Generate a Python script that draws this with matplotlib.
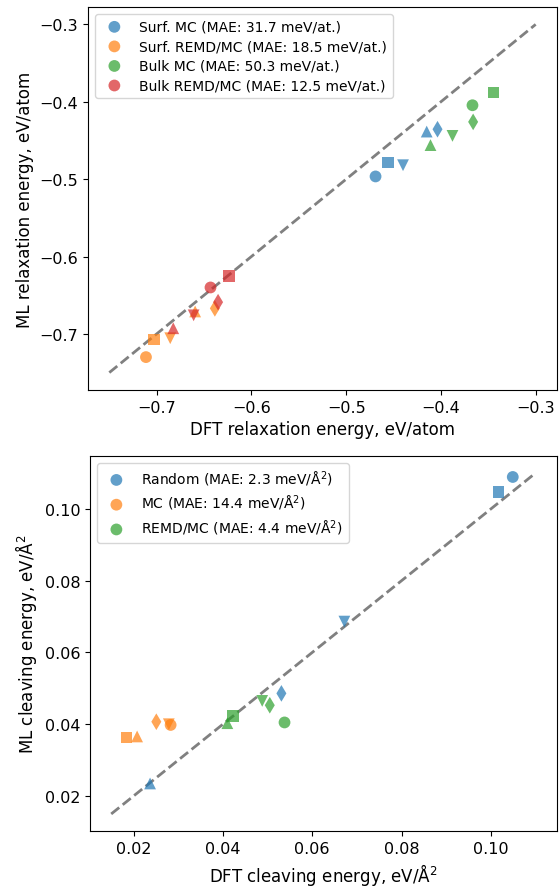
import matplotlib
matplotlib.use("Agg")
import matplotlib.pyplot as plt

# ---------------- data: top panel (relaxation energy, eV/atom) ----------------
# order of points per series: circle, square, down-triangle, up-triangle, diamond
relax_labels = [
    "Surf. MC (MAE: 31.7 meV/at.)",
    "Surf. REMD/MC (MAE: 18.5 meV/at.)",
    "Bulk MC (MAE: 50.3 meV/at.)",
    "Bulk REMD/MC (MAE: 12.5 meV/at.)",
]
surf_mc_dft = [-0.469, -0.4555, -0.440, -0.415, -0.4036]
surf_mc_ml = [-0.4965, -0.4785, -0.482, -0.4385, -0.4355]
surf_remd_dft = [-0.7113, -0.7025, -0.6857, -0.6594, -0.6386]
surf_remd_ml = [-0.730, -0.7073, -0.7056, -0.671, -0.667]
bulk_mc_dft = [-0.3667, -0.3446, -0.3878, -0.411, -0.366]
bulk_mc_ml = [-0.4045, -0.388, -0.4441, -0.456, -0.426]
bulk_remd_dft = [-0.6432, -0.6236, -0.661, -0.6825, -0.6352]
bulk_remd_ml = [-0.640, -0.625, -0.676, -0.6927, -0.659]
relax_line = [-0.75, -0.3]

# ---------------- data: bottom panel (cleaving energy, eV/A^2) ----------------
cleave_labels = [
    "Random (MAE: 2.3 meV/Å$^2$)",
    "MC (MAE: 14.4 meV/Å$^2$)",
    "REMD/MC (MAE: 4.4 meV/Å$^2$)",
]
random_dft = [0.1049, 0.1017, 0.0672, 0.0237, 0.0531]
random_ml = [0.1089, 0.1048, 0.0686, 0.0235, 0.0486]
mc_dft = [0.0283, 0.0184, 0.0279, 0.0208, 0.0251]
mc_ml = [0.0398, 0.0363, 0.0400, 0.0366, 0.0407]
remd_dft = [0.0538, 0.0423, 0.0488, 0.0410, 0.0505]
remd_ml = [0.0405, 0.0422, 0.0465, 0.0403, 0.0453]
cleave_line = [0.015, 0.11]

markers = ["o", "s", "v", "^", "d"]
colors = ["tab:blue", "tab:orange", "tab:green", "tab:red"]

fig = plt.figure(figsize=(5.59, 8.87), dpi=100)
ax1 = fig.add_axes([0.1574, 0.5592, 0.839, 0.4318])
ax2 = fig.add_axes([0.1610, 0.0620, 0.8350, 0.4228])


def draw(ax, xs_list, ys_list, labels):
    for i, (xs, ys, lab) in enumerate(zip(xs_list, ys_list, labels)):
        for j, (x, y) in enumerate(zip(xs, ys)):
            ax.scatter([x], [y], marker=markers[j], s=72, color=colors[i],
                       alpha=0.7, edgecolors="none",
                       label=lab if j == 0 else None)


draw(ax1, [surf_mc_dft, surf_remd_dft, bulk_mc_dft, bulk_remd_dft],
     [surf_mc_ml, surf_remd_ml, bulk_mc_ml, bulk_remd_ml], relax_labels)
ax1.plot(relax_line, relax_line, "--", color="gray", lw=2, zorder=0.5)
ax1.set_xlabel("DFT relaxation energy, eV/atom", fontsize=12)
ax1.set_ylabel("ML relaxation energy, eV/atom", fontsize=12)
ax1.set_xticks([-0.7, -0.6, -0.5, -0.4, -0.3])
ax1.set_yticks([-0.7, -0.6, -0.5, -0.4, -0.3])
ax1.tick_params(labelsize=11.5)
ax1.legend(loc="upper left", fontsize=10, labelspacing=0.4)

draw(ax2, [random_dft, mc_dft, remd_dft], [random_ml, mc_ml, remd_ml], cleave_labels)
ax2.plot(cleave_line, cleave_line, "--", color="gray", lw=2, zorder=0.5)
ax2.set_xlabel("DFT cleaving energy, eV/Å$^2$", fontsize=12)
ax2.set_ylabel("ML cleaving energy, eV/Å$^2$", fontsize=12)
ax2.set_xticks([0.02, 0.04, 0.06, 0.08, 0.10])
ax2.set_yticks([0.02, 0.04, 0.06, 0.08, 0.10])
ax2.tick_params(labelsize=11.5)
ax2.legend(loc="upper left", fontsize=10, labelspacing=0.4)

fig.savefig("out.png", dpi=100)
